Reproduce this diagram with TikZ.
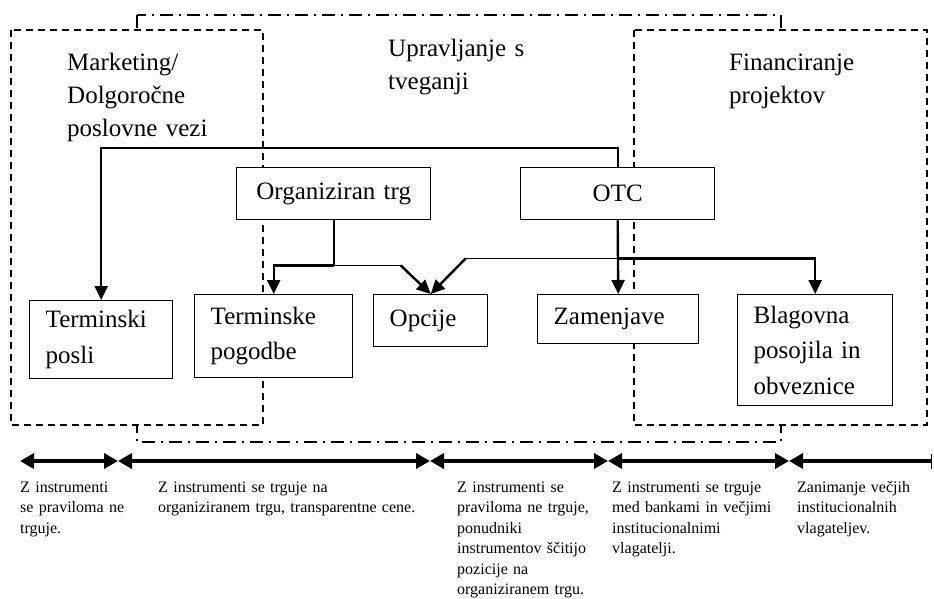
\documentclass[tikz,border=0pt]{standalone}
\usepackage{fontspec}
\setmainfont{Liberation Serif}
\usetikzlibrary{arrows.meta,calc}
\begin{document}
\begin{tikzpicture}[x=1pt,y=-1pt,
  big/.style={font=\fontsize{25}{33}\selectfont},
  boxfont/.style={font=\fontsize{25}{35.5}\selectfont},
  small/.style={font=\fontsize{16}{20.5}\selectfont},
  box/.style={draw, line width=1.4pt, fill=white, boxfont, inner xsep=16pt, inner ysep=0pt,
              align=left, anchor=north west},
  lbl/.style={big, inner sep=0pt, anchor=base west, align=left, text width=220pt},
  blbl/.style={small, inner sep=0pt, anchor=base west, align=left, text width=175pt},
  dashbox/.style={line width=1.3pt, dash pattern=on 7pt off 5pt, fill=white},
  dotbox/.style={line width=1.3pt, dash pattern=on 13pt off 6pt on 2pt off 6pt},
  tip/.style={-{Triangle[length=14pt,width=13pt]}},
  thickln/.style={line width=2.4pt},
  thinln/.style={line width=1.3pt},
  span/.style={line width=4pt, {Triangle[length=14pt,width=15pt]}-{Triangle[length=14pt,width=15pt]}}
]
\fill[white] (0,0) rectangle (934,598);
\useasboundingbox (0,0) rectangle (934,598);

% regions
\draw[dotbox] (137,15) rectangle (781,442);
\draw[dashbox] (11,30) rectangle (263,425);
\draw[dashbox] (634,30) rectangle (927,425);

% region titles
\node[lbl] (tmark) at (67,70) {Marketing/\\Dolgoročne\\poslovne vezi};
\node[lbl] (tupr) at (388,56) {Upravljanje s\\tveganji};
\node[lbl] (tfin) at (729,70) {Financiranje\\projektov};

% boxes
\node[box, align=center, minimum width=194pt, minimum height=52pt, text width=162pt] (org) at (236,167) {Organiziran trg};
\node[box, align=center, minimum width=194pt, minimum height=52pt, text width=162pt] (otc) at (520,167) {OTC};
\node[box, minimum width=143pt, minimum height=78pt, text width=111pt] (tposli) at (29,300) {Terminski\\posli};
\node[box, minimum width=158pt, minimum height=83pt, text width=126pt] (tpog) at (194,294) {Terminske\\pogodbe};
\node[box, minimum width=114pt, minimum height=52pt, text width=82pt] (opc) at (373,294) {Opcije};
\node[box, minimum width=161pt, minimum height=49pt, text width=129pt] (zam) at (537,294) {Zamenjave};
\node[box, minimum width=155pt, minimum height=111pt, text width=123pt] (blag) at (737,294) {Blagovna\\posojila in\\obveznice};

% connectors
\draw[thickln, tip] (otc.north) -- ++(0,-19) -| (tposli.north);
\draw[thickln] (org.south) -- ++(0,45) coordinate (j1);
\draw[thickln, tip] (j1) -| (tpog.north);
\draw[thinln] (j1) -- ++(67,0) coordinate (j1b);
\draw[thickln, tip] (j1b) -- (opc.north);
\draw[thickln, tip] (otc.south) -- (zam.north);
\coordinate (j2) at ($(otc.south)+(0,38)$);
\draw[thinln] (j2) -- ++(-152,0) coordinate (j3);
\draw[thickln, tip] (j3) -- (opc.north);
\draw[thickln, tip] (j2) -| (blag.north);

% bottom scale
\coordinate (b0) at (20,461);
\coordinate (b1) at (118,461);
\coordinate (b2) at (430,461);
\coordinate (b3) at (608,461);
\coordinate (b4) at (789,461);
\coordinate (b5) at (932,461);
\draw[span] (b0) -- (b1);
\draw[span] (b1) -- (b2);
\draw[span] (b2) -- (b3);
\draw[span] (b3) -- (b4);
\draw[line width=4pt, {Triangle[length=14pt,width=15pt]}-{Bar[width=15pt,line width=1.5pt]}] (b4) -- (b5);

\node[blbl] (l1) at (20,492) {Z instrumenti\\se praviloma ne\\trguje.};
\node[blbl, text width=280pt] (l2) at (158,492) {Z instrumenti se trguje na\\organiziranem trgu, transparentne cene.};
\node[blbl] (l3) at (457,492) {Z instrumenti se\\praviloma ne trguje,\\ponudniki\\instrumentov ščitijo\\pozicije na\\organiziranem trgu.};
\node[blbl] (l4) at (612,492) {Z instrumenti se trguje\\med bankami in večjimi\\institucionalnimi\\vlagatelji.};
\node[blbl, text width=130pt] (l5) at (797,492) {Zanimanje večjih\\institucionalnih\\vlagateljev.};
\end{tikzpicture}
\end{document}
